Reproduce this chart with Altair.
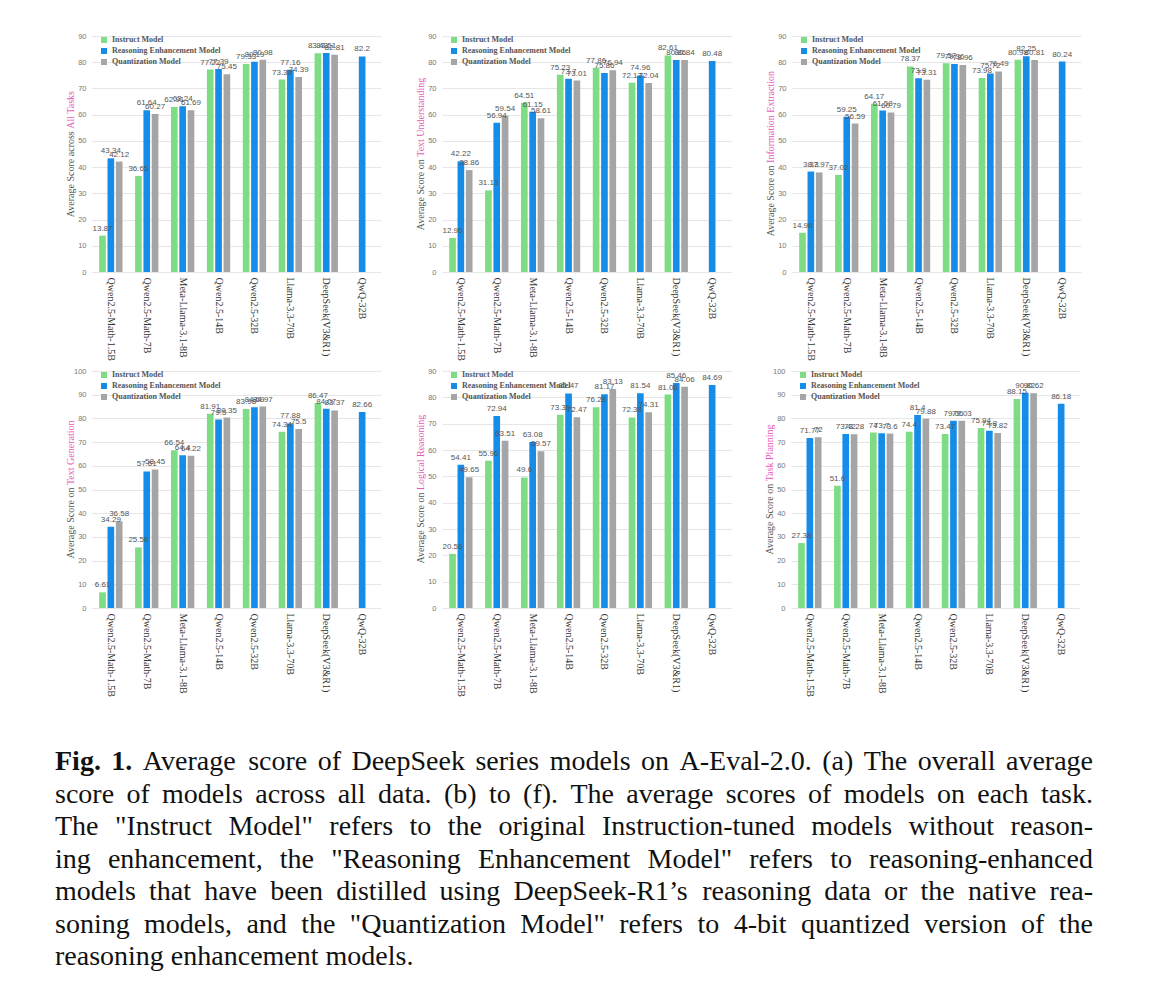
import altair as alt
import pandas as pd

cats = ["Qwen2.5-Math-1.5B", "Qwen2.5-Math-7B", "Meta-Llama-3.1-8B", "Qwen2.5-14B",
        "Qwen2.5-32B", "Llama-3.3-70B", "DeepSeek(V3&R1)", "QwQ-32B"]
models = ["Instruct Model", "Reasoning Enhancement Model", "Quantization Model"]
colors = ["#7ddc84", "#168ce9", "#a5a5a5"]
PINK = "#e65aba"

# (a) All Tasks
instruct_a = [13.87, 36.65, 62.91, 77.22, 79.33, 73.39, 83.43, None]
reason_a = [43.34, 61.64, 63.24, 77.39, 80.19, 77.16, 83.51, 82.2]
quant_a = [42.12, 60.27, 61.69, 75.45, 80.98, 74.39, 82.81, None]
# (b) Text Understanding
instruct_b = [12.96, 31.13, 64.51, 75.23, 77.86, 72.17, 82.61, None]
reason_b = [42.22, 56.94, 61.15, 73.7, 75.86, 74.96, 80.86, 80.48]
quant_b = [38.86, 59.54, 58.61, 73.01, 76.94, 72.04, 80.84, None]
# (c) Information Extraction
instruct_c = [14.96, 37.02, 64.17, 78.37, 79.57, 73.98, 80.98, None]
reason_c = [38.3, 59.25, 61.58, 73.9, 79.36, 75.72, 82.25, 80.24]
quant_c = [37.97, 56.59, 60.79, 73.31, 78.96, 76.49, 80.81, None]
# (d) Text Generation
instruct_d = [6.61, 25.56, 66.54, 81.91, 83.98, 74.34, 86.47, None]
reason_d = [34.29, 57.61, 64.4, 79.5, 84.69, 77.88, 84.07, 82.66]
quant_d = [36.58, 58.45, 64.22, 80.35, 84.97, 75.5, 83.37, None]
# (e) Logical Reasoning
instruct_e = [20.56, 55.96, 49.6, 73.36, 76.28, 72.38, 81.06, None]
reason_e = [54.41, 72.94, 63.08, 81.47, 81.17, 81.54, 85.46, 84.69]
quant_e = [49.65, 63.51, 59.57, 72.47, 83.13, 74.31, 84.06, None]
# (f) Task Planning
instruct_f = [27.38, 51.6, 74, 74.4, 73.47, 75.94, 88.15, None]
reason_f = [71.77, 73.42, 73.7, 81.4, 79.05, 74.8, 90.82, 86.18]
quant_f = [72, 73.28, 73.6, 79.88, 79.03, 73.82, 90.62, None]

titles_black = ["Average Score across", "Average Score on", "Average Score on",
                "Average Score on", "Average Score on", "Average Score on"]
titles_pink = ["All Tasks", "Text Understanding", "Information Extraction",
               "Text Generation", "Logical Reasoning", "Task Planning"]
ymaxes = [90, 90, 90, 100, 90, 100]

caption_lines = [
    "Fig. 1. Average score of DeepSeek series models on A-Eval-2.0. (a) The overall average",
    "score of models across all data. (b) to (f). The average scores of models on each task.",
    "The \"Instruct Model\" refers to the original Instruction-tuned models without reason-",
    "ing enhancement, the \"Reasoning Enhancement Model\" refers to reasoning-enhanced",
    "models that have been distilled using DeepSeek-R1\u2019s reasoning data or the native rea-",
    "soning models, and the \"Quantization Model\" refers to 4-bit quantized version of the",
    "reasoning enhancement models.",
]

# Times-like glyph widths (1/1000 em) used for text layout
TW = {' ': 250, '!': 333, '"': 408, "'": 180, '\u2019': 333, '(': 333, ')': 333, ',': 250,
      '-': 333, '.': 250, '/': 278, ':': 278, ';': 278, '&': 778,
      'A': 722, 'B': 667, 'C': 667, 'D': 722, 'E': 611, 'F': 556, 'G': 722, 'H': 722,
      'I': 333, 'J': 389, 'K': 722, 'L': 611, 'M': 889, 'N': 722, 'O': 722, 'P': 556,
      'Q': 722, 'R': 667, 'S': 556, 'T': 611, 'U': 722, 'V': 722, 'W': 944, 'X': 722,
      'Y': 722, 'Z': 611,
      'a': 444, 'b': 500, 'c': 444, 'd': 500, 'e': 444, 'f': 333, 'g': 500, 'h': 500,
      'i': 278, 'j': 278, 'k': 500, 'l': 278, 'm': 778, 'n': 500, 'o': 500, 'p': 500,
      'q': 500, 'r': 333, 's': 389, 't': 278, 'u': 500, 'v': 500, 'w': 722, 'x': 500,
      'y': 500, 'z': 444}
TWB = dict(TW)
TWB.update({'F': 611, 'i': 278, 'g': 500, '.': 250, '1': 500, ' ': 250})


def tw(s, size, table=TW):
    return sum(table.get(c, 500) for c in s) * size / 1000.0


PW = 289
LEFT = 37  # room left of each row's first plot (axis labels and rotated title)


def make_panel(ins, rea, qua, black, pink, ymax, H, spacer=False):
    rows = []
    for m, vals in zip(models, [ins, rea, qua]):
        for c, v in zip(cats, vals):
            if v is not None:
                rows.append({"cat": c, "model": m, "score": v, "label": f"{v:g}"})
    df = pd.DataFrame(rows)
    base = alt.Chart(df).encode(
        x=alt.X("cat:N", sort=cats,
                scale=alt.Scale(domain=cats, paddingInner=0.35, paddingOuter=0.2),
                axis=alt.Axis(title=None, labelAngle=90, labelFont="Liberation Serif",
                              labelFontSize=10, labelColor="#333", ticks=False,
                              domain=False, grid=False, labelPadding=5)),
        xOffset=alt.XOffset("model:N", sort=models,
                            scale=alt.Scale(domain=models, paddingInner=0.2)),
        y=alt.Y("score:Q", scale=alt.Scale(domain=[0, ymax], nice=False),
                axis=alt.Axis(title=None, values=list(range(0, ymax + 1, 10)),
                              labelFont="Liberation Sans", labelFontSize=7.5,
                              labelColor="#777", ticks=False, domain=False,
                              gridColor="#e6e6e6", labelPadding=6)),
    )
    bars = base.mark_bar().encode(
        color=alt.Color("model:N", sort=models,
                        scale=alt.Scale(domain=models, range=colors),
                        legend=alt.Legend(orient="none", legendX=8, legendY=0, title=None,
                                          direction="vertical", symbolType="square",
                                          symbolSize=36, symbolStrokeWidth=0,
                                          labelFont="Liberation Serif", labelFontSize=8,
                                          labelFontWeight="bold", labelColor="#555",
                                          rowPadding=3, labelOffset=4, padding=0))
    )
    labels = base.mark_text(baseline="alphabetic", dy=-5, font="Liberation Sans",
                            fontSize=8, color="#555").encode(text="label:N")

    fs = 10
    gap = 2.5
    wb = tw(black, fs)
    wp = tw(pink, fs)
    top = H / 2 - (wb + wp + gap) / 2
    junction = top + wp
    pink_t = alt.Chart(pd.DataFrame({"t": [pink]})).mark_text(
        angle=270, align="left", baseline="middle", font="Liberation Serif",
        fontSize=fs, color=PINK).encode(text="t:N", x=alt.value(-21), y=alt.value(junction))
    black_t = alt.Chart(pd.DataFrame({"t": [black]})).mark_text(
        angle=270, align="right", baseline="middle", font="Liberation Serif",
        fontSize=fs, color="#555").encode(text="t:N", x=alt.value(-21),
                                          y=alt.value(junction + gap))
    layers = [bars, labels, black_t, pink_t]
    if spacer:
        sp = alt.Chart(pd.DataFrame({"t": [0]})).mark_rule(opacity=0).encode(
            x=alt.value(-LEFT), x2=alt.value(-LEFT + 1), y=alt.value(0), y2=alt.value(1))
        layers.append(sp)
    return alt.layer(*layers).properties(width=PW, height=H)


series = [(instruct_a, reason_a, quant_a), (instruct_b, reason_b, quant_b),
          (instruct_c, reason_c, quant_c), (instruct_d, reason_d, quant_d),
          (instruct_e, reason_e, quant_e), (instruct_f, reason_f, quant_f)]

panels = []
for i, (ins, rea, qua) in enumerate(series):
    H = 236 if i < 3 else 237
    panels.append(make_panel(ins, rea, qua, titles_black[i], titles_pink[i], ymaxes[i], H,
                             spacer=(i % 3 == 0)))


def res(c):
    return c.resolve_scale(x="independent", y="independent", color="independent",
                           xOffset="independent").resolve_legend(color="independent")


row1 = res(alt.hconcat(*panels[:3], spacing=34))
row2 = res(alt.hconcat(*panels[3:], spacing=34))

# caption, justified word by word
CW = 1038
CFS = 28
crow = []
for li, line in enumerate(caption_lines):
    words = line.split(" ")
    bolds = [li == 0 and k < 2 for k in range(len(words))]
    widths = [tw(w, CFS, TWB if b else TW) for w, b in zip(words, bolds)]
    if li < len(caption_lines) - 1:
        g = (CW - sum(widths)) / (len(words) - 1)
        g = max(g, 3)
    else:
        g = tw(" ", CFS)
    xx = 0.0
    for w, b, wd in zip(words, bolds, widths):
        crow.append({"w": w, "line": li, "x": xx, "bold": b})
        xx += wd + g
cdf = pd.DataFrame(crow)

cbase = alt.Chart(cdf).encode(
    x=alt.X("x:Q", scale=alt.Scale(domain=[0, CW], range=[-LEFT, CW - LEFT]), axis=None),
    y=alt.Y("line:Q", scale=alt.Scale(domain=[0, 6], range=[67, 262]), axis=None),
    text="w:N",
)
cap_norm = cbase.transform_filter("!datum.bold").mark_text(
    align="left", baseline="alphabetic", font="Liberation Serif", fontSize=CFS, color="#111")
cap_bold = cbase.transform_filter("datum.bold").mark_text(
    align="left", baseline="alphabetic", font="Liberation Serif", fontSize=CFS,
    fontWeight="bold", color="#111")
caption = alt.layer(cap_norm, cap_bold).properties(width=CW - LEFT, height=275)

chart = res(alt.vconcat(row1, row2, caption, spacing=6)).properties(
    padding={"left": 47, "top": 24, "right": 5, "bottom": 5}
).configure_view(stroke=None)

chart.save("out.html", embed_options={"renderer": "svg", "actions": False})
